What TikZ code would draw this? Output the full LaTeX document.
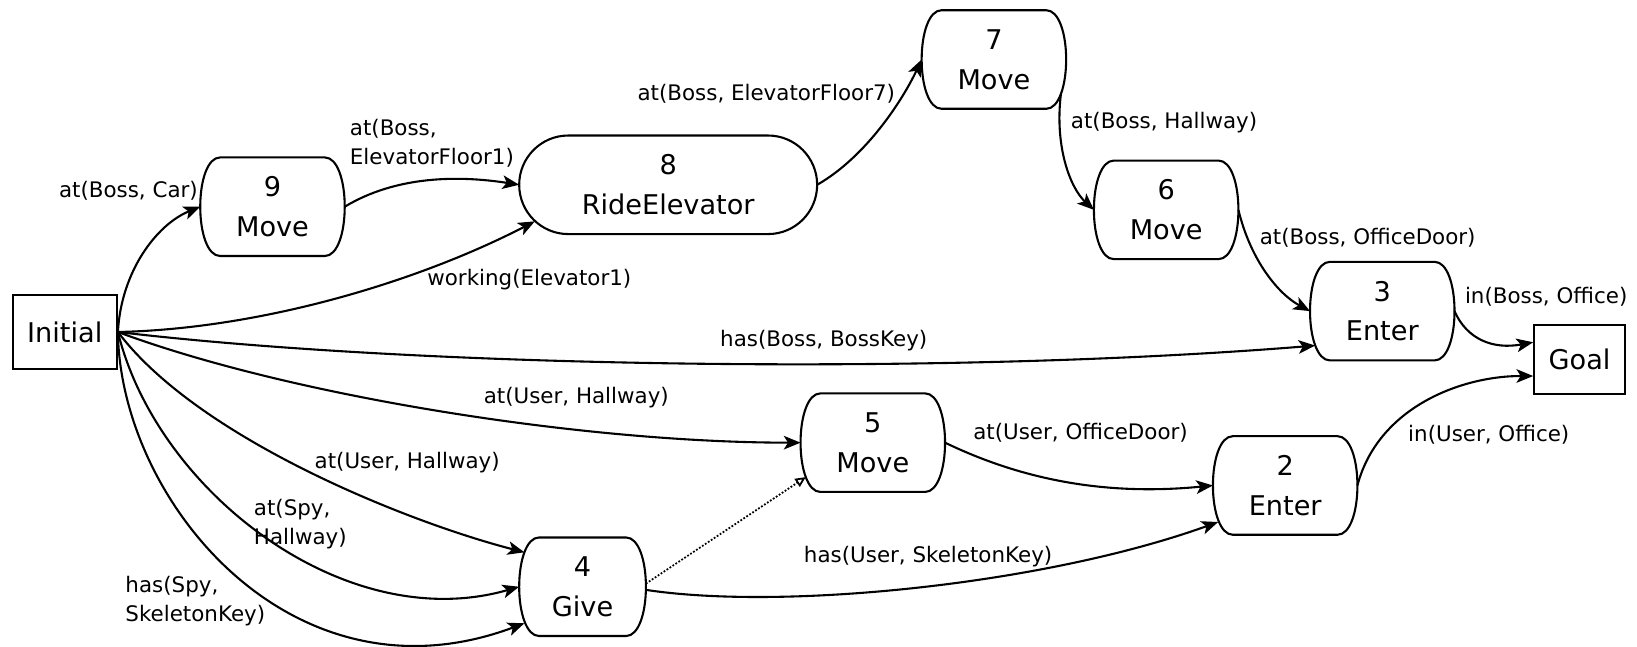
\documentclass[tikz,border=0pt]{standalone}
\usepackage{fontspec}
\setmainfont{DejaVu Sans}
\usetikzlibrary{arrows.meta,calc}
\newcommand{\nodefnt}{\fontsize{26}{38}\selectfont}
\newcommand{\lblfnt}{\fontsize{20.5}{28}\selectfont}
% outline of an action node: #1 name, #2 corner inset, #3 ctrl along top, #4 ctrl along side
\newcommand{\actoutline}[4]{%
  \draw[outl] ($(#1.north east)+(-#2,0)$)
    .. controls ($(#1.north east)+(-#2+#3,0)$) and ($(#1.east)+(0,-#4)$) .. (#1.east)
    .. controls ($(#1.east)+(0,#4)$) and ($(#1.south east)+(-#2+#3,0)$) .. ($(#1.south east)+(-#2,0)$)
    -- ($(#1.south west)+(#2,0)$)
    .. controls ($(#1.south west)+(#2-#3,0)$) and ($(#1.west)+(0,#4)$) .. (#1.west)
    .. controls ($(#1.west)+(0,-#4)$) and ($(#1.north west)+(#2-#3,0)$) .. ($(#1.north west)+(#2,0)$)
    -- cycle;}
\begin{document}
\begin{tikzpicture}[x=1pt,y=-1pt,
  act/.style={rectangle, minimum width=138pt, minimum height=94pt, inner sep=0pt, align=center, font=\nodefnt},
  outl/.style={line width=2pt, line join=round},
  box/.style={rectangle, draw, line width=1.9pt, inner sep=0pt, font=\nodefnt},
  lbl/.style={font=\lblfnt, inner sep=0pt, align=left},
  edge/.style={line width=2pt, -{Stealth[length=16pt,width=13pt,inset=4pt]}},
  dotedge/.style={line width=1.7pt, dash pattern=on 1.7pt off 1.7pt, -{Triangle[open,length=10pt,width=9pt]}}
]
\useasboundingbox (0,0) rectangle (1568,619);

% nodes
\node[box, minimum width=100pt, minimum height=70pt] (init) at (62,318) {Initial};
\node[box, minimum width=87pt, minimum height=66pt] (goal) at (1513,344) {Goal};
\node[act] (n9) at (261,198) {9\\Move};
\node[act, minimum width=285pt] (n8) at (640,177) {8\\RideElevator};
\node[act] (n7) at (952,57) {7\\Move};
\node[act] (n6) at (1117,201) {6\\Move};
\node[act] (n3) at (1324,298) {3\\Enter};
\node[act] (n5) at (836,424) {5\\Move};
\node[act] (n2) at (1231,465) {2\\Enter};
\node[act, minimum width=121pt] (n4) at (558,562) {4\\Give};

\actoutline{n9}{19}{12}{25}
\actoutline{n8}{47}{26}{26}
\actoutline{n7}{19}{12}{25}
\actoutline{n6}{19}{12}{25}
\actoutline{n3}{19}{12}{25}
\actoutline{n5}{19}{12}{25}
\actoutline{n2}{19}{12}{25}
\actoutline{n4}{19}{12}{25}

% edges
\draw[edge] (init.east) .. controls (116,260) and (150,215) .. (n9.west);
\draw[edge] (n9.east) .. controls (380,168) and (440,168) .. (n8.west);
\draw[edge] (init.east) .. controls (250,315) and (400,270) .. ($(n8.west)+(15,35)$);
\draw[edge] (n8.east) .. controls (830,150) and (865,95) .. (n7.west);
\draw[edge] ($(n7.east)+(-5,33)$) .. controls (1010,140) and (1025,180) .. (n6.west);
\draw[edge] (n6.east) .. controls (1198,250) and (1225,282) .. (n3.west);
\draw[edge] (init.east) .. controls (400,352) and (900,360) .. ($(n3.west)+(5,33)$);
\draw[edge] (init.east) .. controls (280,380) and (560,424) .. (n5.west);
\draw[edge] (init.east) .. controls (190,420) and (390,500) .. ($(n4.west)+(5,-33)$);
\draw[edge] (init.east) .. controls (150,470) and (330,610) .. (n4.west);
\draw[edge] (init.east) .. controls (115,480) and (280,680) .. ($(n4.west)+(5,35)$);
\draw[dotedge] ($(n4.east)+(0,-3)$) -- ($(n5.west)+(5,33)$);
\draw[edge] ($(n4.east)+(0,3)$) .. controls (750,585) and (1000,560) .. ($(n2.west)+(5,35)$);
\draw[edge] (n5.east) .. controls (980,460) and (1060,475) .. (n2.west);
\draw[edge] (n3.east) .. controls (1405,325) and (1430,335) .. (goal.160);
\draw[edge] (n2.east) .. controls (1320,390) and (1400,360) .. (goal.200);

% labels
\node[lbl] (l1) at (123,183) {at(Boss, Car)};
\node[lbl, anchor=west] (l2) at (335,137) {at(Boss,\\ElevatorFloor1)};
\node[lbl] (l3) at (507,268) {working(Elevator1)};
\node[lbl] (l4) at (734,90) {at(Boss, ElevatorFloor7)};
\node[lbl] (l5) at (1115,117) {at(Boss, Hallway)};
\node[lbl] (l6) at (1310,228) {at(Boss, OfficeDoor)};
\node[lbl] (l7) at (1481,284) {in(Boss, Office)};
\node[lbl] (l8) at (789,326) {has(Boss, BossKey)};
\node[lbl] (l9) at (552,381) {at(User, Hallway)};
\node[lbl] (l10) at (1035,415) {at(User, OfficeDoor)};
\node[lbl] (l11) at (1426,416) {in(User, Office)};
\node[lbl] (l12) at (390,443) {at(User, Hallway)};
\node[lbl, anchor=west] (l13) at (243,502) {at(Spy,\\Hallway)};
\node[lbl] (l14) at (889,533) {has(User, SkeletonKey)};
\node[lbl, anchor=west] (l15) at (120,576) {has(Spy,\\SkeletonKey)};
\end{tikzpicture}
\end{document}
